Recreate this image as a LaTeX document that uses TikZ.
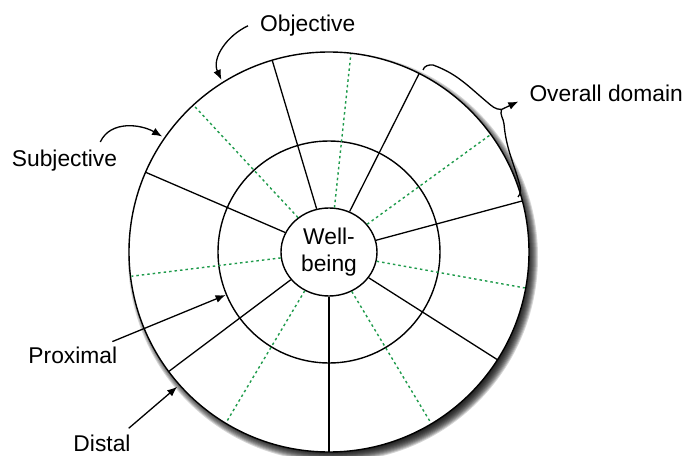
\documentclass[tikz,border=0pt]{standalone}
\usepackage{fontspec}
\setmainfont{Liberation Sans}
\usetikzlibrary{arrows.meta,shapes.geometric}
\definecolor{SpokeGreen}{RGB}{30,155,75}

\begin{document}
\begin{tikzpicture}[x=1pt,y=1pt,
    ring/.style={line width=1.4pt},
    spoke/.style={line width=1.3pt},
    subspoke/.style={line width=1.4pt,SpokeGreen,dash pattern=on 2.5pt off 3pt},
    pointer/.style={line width=1.3pt,-{Latex[length=10pt,width=8pt]}},
    lbl/.style={inner sep=0pt,anchor=base west,font=\fontsize{22.8}{27.3}\selectfont}]
  \useasboundingbox (-329,-203) rectangle (356,252);
  % soft shadow under the outer ring
  \foreach \r in {195,...,205}
    \fill[black,opacity=0.16] (4,-5) circle (\r);
  \draw[ring,fill=white] (0,0) circle (200);
  \draw[ring] (0,0) circle (111);
  \node[ellipse,draw,ring,fill=white,inner sep=0pt,minimum width=96pt,minimum height=88pt,
        align=center,font=\fontsize{22.8}{27.3}\selectfont] (well) at (0,0) {Well-\\being};
  \foreach \a in {14.8,63.2,106.5,156.5,216.7,270,327.4}
    \draw[spoke] (well.\a) -- (\a:200);
  \foreach \a in {349.6,36,83.7,132.7,187,238.9,300.8}
    \draw[subspoke] (well.\a) -- (\a:199);
  % labels
  \node[lbl] (obj) at (-69,220.3) {Objective};
  \node[lbl] (subj) at (-317.3,85.3) {Subjective};
  \node[lbl] (prox) at (-300.7,-111.3) {Proximal};
  \node[lbl] (dist) at (-255.7,-199.5) {Distal};
  \node[lbl] (dom) at (200.3,150.3) {Overall domain};
  \coordinate (objtip) at (122:203);
  \coordinate (subjtip) at (145.3:203);
  \coordinate (proxtip) at (202.6:112);
  \coordinate (disttip) at (221.6:203);
  \coordinate (cusp) at (172.5,142.5);
  % pointers
  \draw[pointer] ([xshift=-12pt]obj.west) to[out=205,in=115] (objtip);
  \draw[pointer] ([shift={(-17,8)}]subj.north east) to[out=65,in=150] (subjtip);
  \draw[pointer] ([shift={(-5,5)}]prox.north east) -- (proxtip);
  \draw[pointer] ([shift={(-2,6.5)}]dist.north east) -- (disttip);
  % brace for the domain
  \draw[line width=1.3pt] (94,182) to[out=75,in=175] (104,187)
    to[out=-20,in=140] (158,150) to[out=-40,in=180] (cusp)
    to[out=250,in=95] (175,128) to[out=-85,in=105] (191,66) to[out=-80,in=50] (189,55);
  \draw[pointer] (cusp) -- ([shift={(-11,-8)}]dom.west);
\end{tikzpicture}
\end{document}
